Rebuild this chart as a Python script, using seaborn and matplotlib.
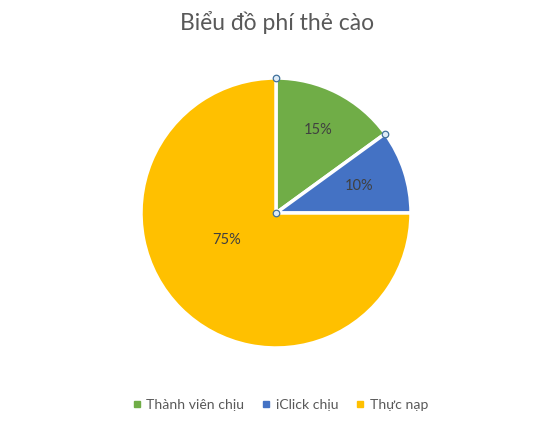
import matplotlib
matplotlib.use("Agg")

import numpy as np
import matplotlib.pyplot as plt
import seaborn as sns

# Data
categories = ["Thành viên chịu", "iClick chịu", "Thực nạp"]
shares = [15, 10, 75]
title = "Biểu đồ phí thẻ cào"

sns.set_theme(style="white")
plt.rcParams["font.family"] = ["Lato", "DejaVu Sans"]

colors = sns.color_palette(["#70AD47", "#4472C4", "#FFC000"])

W, H = 554, 426
fig = plt.figure(figsize=(W / 100, H / 100), dpi=100)
ax = fig.add_axes([0, 0, 1, 1])

cx, cy, r = 276, H - 213, 135
wedges, _ = ax.pie(shares, colors=colors, startangle=90, counterclock=False,
                   center=(cx, cy), radius=r,
                   wedgeprops=dict(edgecolor="white", linewidth=2.5))

# percentage labels
label_dist = [0.69, 0.65, 0.42]
for w, d, v in zip(wedges, label_dist, shares):
    mid = np.deg2rad((w.theta1 + w.theta2) / 2)
    if v == max(shares):
        mid = np.deg2rad(-151 + 360)
    ax.text(cx + d * r * np.cos(mid), cy + d * r * np.sin(mid), f"{v}%",
            ha="center", va="center", fontsize=10.5, color="#404040")

# selection handles on the first slice
t1 = np.deg2rad(wedges[0].theta1)
t2 = np.deg2rad(wedges[0].theta2)
hx = [cx + r * np.cos(t2), cx + r * np.cos(t1), cx]
hy = [cy + r * np.sin(t2), cy + r * np.sin(t1), cy]
ax.scatter(hx, hy, s=22, facecolor="#DEEBF7", edgecolor="#41719C",
           linewidth=0.9, zorder=5)

ax.set_xlim(0, W)
ax.set_ylim(0, H)
ax.set_aspect("equal")
ax.axis("off")

fig.text(0.5, 1 - 22 / H, title, ha="center", va="center",
         fontsize=16.5, color="#595959")

handles = [plt.Line2D([], [], marker="s", linestyle="", markersize=5,
                      color=c) for c in colors]
fig.legend(handles, categories, loc="center", bbox_to_anchor=(0.505, 1 - 405 / H),
           ncol=3, frameon=False, fontsize=10.1, handlelength=0.8,
           handletextpad=0.3, columnspacing=1.15, labelcolor="#595959")

fig.savefig("out.png", dpi=100)
